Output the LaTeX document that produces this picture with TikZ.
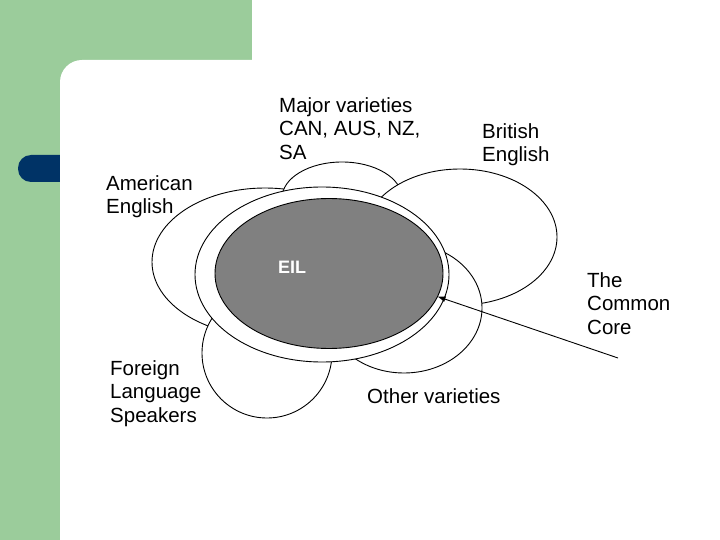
\documentclass[tikz,border=0pt]{standalone}
\usepackage{fontspec}
\setmainfont{Liberation Sans}
\usepackage{tikz}
\usetikzlibrary{arrows.meta,shapes.geometric}

\definecolor{slidegreen}{RGB}{155,204,155}
\definecolor{slidenavy}{RGB}{0,51,102}
\definecolor{eilgray}{RGB}{128,128,128}

\begin{document}
\begin{tikzpicture}[
      x=1pt, y=-1pt,
      >=Latex,
      lobe/.style={ellipse, draw=black, fill=white, line width=0.9pt,
        inner sep=0pt, outer sep=0pt},
      eilshape/.style={lobe, fill=eilgray},
      txt/.style={anchor=north west, inner sep=0pt, align=left,
        font=\fontsize{20.5}{23.8}\selectfont},
      pointer/.style={-{Latex[length=8pt,width=6pt]}, line width=0.9pt}
    ]
    \useasboundingbox (0,0) rectangle (720,540);

    % Slide background
    \fill[white] (0,0) rectangle (720,540);
    \fill[slidegreen] (0,0) rectangle (252,540);
    \fill[slidenavy, rounded corners=13pt] (18,155) rectangle (90,182);
    \fill[white, rounded corners=22pt] (60,60) rectangle (780,600);

    % Varieties around the core
    \node[lobe, minimum width=226pt, minimum height=148pt] (amE) at (265,262) {};
    \node[lobe, minimum width=120pt, minimum height=72pt] (major) at (342,198) {};
    \node[lobe, minimum width=194pt, minimum height=136pt] (brE) at (460,237) {};
    \node[lobe, minimum width=156pt, minimum height=130pt] (other) at (404,308) {};
    \node[lobe, minimum width=130pt, minimum height=130pt] (foreign) at (267,353) {};

    % Common core and EIL
    \node[lobe, minimum width=254pt, minimum height=175pt] (core) at (322,274.5) {};
    \node[eilshape, minimum width=228pt, minimum height=150pt] (eil) at (329,273.5) {};
    \node[anchor=north west, inner sep=0pt, text=white,
      font=\fontsize{18}{20}\selectfont\bfseries] (eiltext) at (278,261) {EIL};

    % Labels
    \node[txt] (majortext) at (279,97) {Major varieties\\CAN, AUS, NZ,\\SA};
    \node[txt] (brEtext) at (482,123) {British\\English};
    \node[txt] (amEtext) at (106,175) {American\\English};
    \node[txt] (coretext) at (587,272) {The\\Common\\Core};
    \node[txt] (foreigntext) at (110,360) {Foreign\\Language\\Speakers};
    \node[txt] (othertext) at (367,388) {Other varieties};

    % Pointer to the common core
    \coordinate (tail) at (618,358);
    \draw[pointer] (tail) -- (eil.-12);
  \end{tikzpicture}
\end{document}
